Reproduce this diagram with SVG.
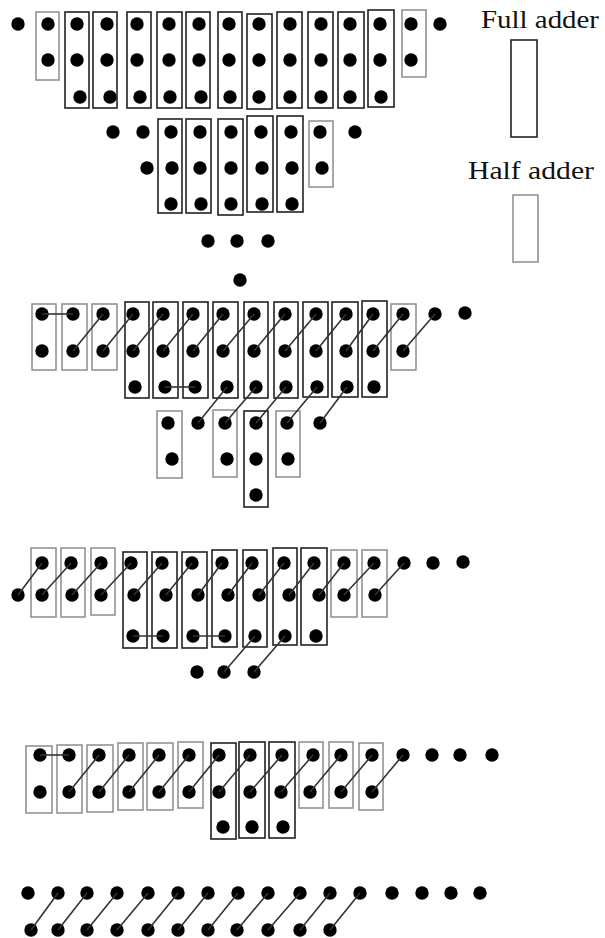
<svg xmlns="http://www.w3.org/2000/svg" width="605" height="938" viewBox="0 0 605 938">
<defs>
<style>
.fa{fill:none;stroke:#222;stroke-width:1.6}
.ha{fill:none;stroke:#8c8c8c;stroke-width:1.5}
.d{fill:#000}
.ln{stroke:#333;stroke-width:1.6;fill:none}
.lbl{font-family:"Liberation Serif","Times New Roman",serif;font-size:26px;fill:#111}
</style>
</defs>
<rect width="605" height="938" fill="#fff"/>

<g id="legend">
<text class="lbl" x="481" y="28" textLength="118" lengthAdjust="spacingAndGlyphs">Full adder</text>
<rect class="fa" x="511" y="40" width="26" height="97"/>
<text class="lbl" x="468" y="179" textLength="126" lengthAdjust="spacingAndGlyphs">Half adder</text>
<rect class="ha" x="513" y="195" width="25" height="67"/>
</g>

<g id="stage1-boxes">
<rect class="ha" x="36" y="12" width="23" height="68"/>
<rect class="fa" x="65" y="12" width="24" height="96"/>
<rect class="fa" x="93" y="12" width="24" height="96"/>
<rect class="fa" x="127" y="12" width="24" height="96"/>
<rect class="fa" x="157" y="12" width="25" height="96"/>
<rect class="fa" x="186" y="12" width="24" height="96"/>
<rect class="fa" x="218" y="12" width="24" height="96"/>
<rect class="fa" x="247" y="14" width="25" height="95"/>
<rect class="fa" x="277" y="12" width="25" height="96"/>
<rect class="fa" x="308" y="12" width="25" height="96"/>
<rect class="fa" x="338" y="12" width="26" height="96"/>
<rect class="fa" x="368" y="10" width="26" height="97"/>
<rect class="ha" x="402" y="10" width="24" height="67"/>
<rect class="fa" x="158" y="119" width="24" height="94"/>
<rect class="fa" x="186" y="119" width="25" height="94"/>
<rect class="fa" x="218" y="119" width="25" height="96"/>
<rect class="fa" x="247" y="116" width="26" height="96"/>
<rect class="fa" x="277" y="116" width="26" height="96"/>
<rect class="ha" x="309" y="121" width="24" height="66"/>
</g>
<g id="stage1-dots" class="d">
<circle cx="18" cy="24" r="6.7"/><circle cx="48" cy="24" r="6.7"/><circle cx="77" cy="24" r="6.7"/><circle cx="107" cy="24" r="6.7"/><circle cx="137" cy="24" r="6.7"/><circle cx="169" cy="24" r="6.7"/><circle cx="199" cy="24" r="6.7"/><circle cx="229" cy="24" r="6.7"/><circle cx="259" cy="24" r="6.7"/><circle cx="290" cy="24" r="6.7"/><circle cx="321" cy="24" r="6.7"/><circle cx="350" cy="24" r="6.7"/><circle cx="380" cy="24" r="6.7"/><circle cx="411" cy="24" r="6.7"/><circle cx="440" cy="24" r="6.7"/>
<circle cx="48" cy="60" r="6.7"/><circle cx="77" cy="60" r="6.7"/><circle cx="107" cy="60" r="6.7"/><circle cx="137" cy="60" r="6.7"/><circle cx="169" cy="60" r="6.7"/><circle cx="199" cy="60" r="6.7"/><circle cx="229" cy="60" r="6.7"/><circle cx="259" cy="60" r="6.7"/><circle cx="290" cy="60" r="6.7"/><circle cx="321" cy="60" r="6.7"/><circle cx="350" cy="60" r="6.7"/><circle cx="380" cy="60" r="6.7"/><circle cx="411" cy="60" r="6.7"/>
<circle cx="80" cy="97" r="6.7"/><circle cx="110" cy="97" r="6.7"/><circle cx="140" cy="97" r="6.7"/><circle cx="170" cy="97" r="6.7"/><circle cx="201" cy="97" r="6.7"/><circle cx="230" cy="97" r="6.7"/><circle cx="259" cy="97" r="6.7"/><circle cx="290" cy="97" r="6.7"/><circle cx="321" cy="97" r="6.7"/><circle cx="350" cy="97" r="6.7"/><circle cx="381" cy="97" r="6.7"/>
<circle cx="113" cy="132" r="6.7"/><circle cx="143" cy="132" r="6.7"/><circle cx="171" cy="132" r="6.7"/><circle cx="200" cy="132" r="6.7"/><circle cx="231" cy="132" r="6.7"/><circle cx="261" cy="132" r="6.7"/><circle cx="291" cy="132" r="6.7"/><circle cx="320" cy="132" r="6.7"/><circle cx="355" cy="132" r="6.7"/>
<circle cx="147" cy="168" r="6.7"/><circle cx="172" cy="168" r="6.7"/><circle cx="200" cy="168" r="6.7"/><circle cx="231" cy="168" r="6.7"/><circle cx="262" cy="168" r="6.7"/><circle cx="292" cy="168" r="6.7"/><circle cx="322" cy="168" r="6.7"/>
<circle cx="171" cy="204" r="6.7"/><circle cx="201" cy="204" r="6.7"/><circle cx="231" cy="204" r="6.7"/><circle cx="262" cy="204" r="6.7"/><circle cx="292" cy="204" r="6.7"/>
<circle cx="208" cy="241" r="6.7"/><circle cx="237" cy="241" r="6.7"/><circle cx="268" cy="241" r="6.7"/>
<circle cx="240" cy="280" r="6.7"/>
</g>

<g id="stage2-boxes">
<rect class="ha" x="32" y="304" width="24" height="66"/>
<rect class="ha" x="62" y="304" width="25" height="66"/>
<rect class="ha" x="92" y="304" width="25" height="66"/>
<rect class="fa" x="125" y="302" width="24" height="96"/>
<rect class="fa" x="153" y="302" width="25" height="96"/>
<rect class="fa" x="183" y="302" width="25" height="96"/>
<rect class="fa" x="213" y="302" width="25" height="96"/>
<rect class="fa" x="244" y="302" width="24" height="96"/>
<rect class="fa" x="274" y="302" width="24" height="96"/>
<rect class="fa" x="303" y="302" width="25" height="95"/>
<rect class="fa" x="332" y="302" width="26" height="95"/>
<rect class="fa" x="362" y="301" width="25" height="96"/>
<rect class="ha" x="391" y="304" width="25" height="66"/>
<rect class="ha" x="157" y="411" width="25" height="67"/>
<rect class="ha" x="213" y="410" width="24" height="67"/>
<rect class="fa" x="244" y="411" width="24" height="96"/>
<rect class="ha" x="276" y="411" width="24" height="66"/>
</g>
<g id="stage2-dots" class="d">
<circle cx="42" cy="314" r="6.7"/><circle cx="73" cy="314" r="6.7"/><circle cx="103" cy="314" r="6.7"/><circle cx="133" cy="314" r="6.7"/><circle cx="163" cy="314" r="6.7"/><circle cx="193" cy="314" r="6.7"/><circle cx="223" cy="314" r="6.7"/><circle cx="254" cy="314" r="6.7"/><circle cx="285" cy="314" r="6.7"/><circle cx="316" cy="314" r="6.7"/><circle cx="346" cy="314" r="6.7"/><circle cx="373" cy="314" r="6.7"/><circle cx="403" cy="314" r="6.7"/><circle cx="435" cy="314" r="6.7"/><circle cx="465" cy="313" r="6.7"/>
<circle cx="42" cy="351" r="6.7"/><circle cx="73" cy="351" r="6.7"/><circle cx="103" cy="351" r="6.7"/><circle cx="133" cy="351" r="6.7"/><circle cx="163" cy="351" r="6.7"/><circle cx="193" cy="351" r="6.7"/><circle cx="223" cy="351" r="6.7"/><circle cx="254" cy="351" r="6.7"/><circle cx="285" cy="351" r="6.7"/><circle cx="316" cy="351" r="6.7"/><circle cx="346" cy="351" r="6.7"/><circle cx="373" cy="351" r="6.7"/><circle cx="403" cy="351" r="6.7"/>
<circle cx="135" cy="387" r="6.7"/><circle cx="165" cy="387" r="6.7"/><circle cx="195" cy="387" r="6.7"/><circle cx="227" cy="387" r="6.7"/><circle cx="256" cy="387" r="6.7"/><circle cx="286" cy="387" r="6.7"/><circle cx="317" cy="387" r="6.7"/><circle cx="347" cy="387" r="6.7"/><circle cx="374" cy="387" r="6.7"/>
<circle cx="168" cy="423" r="6.7"/><circle cx="198" cy="423" r="6.7"/><circle cx="225" cy="423" r="6.7"/><circle cx="256" cy="423" r="6.7"/><circle cx="287" cy="423" r="6.7"/><circle cx="320" cy="423" r="6.7"/>
<circle cx="172" cy="459" r="6.7"/><circle cx="227" cy="459" r="6.7"/><circle cx="256" cy="459" r="6.7"/><circle cx="288" cy="459" r="6.7"/>
<circle cx="256" cy="495" r="6.7"/>
</g>

<g id="stage3-boxes">
<rect class="ha" x="31" y="548" width="25" height="69"/>
<rect class="ha" x="61" y="548" width="24" height="69"/>
<rect class="ha" x="91" y="548" width="24" height="67"/>
<rect class="fa" x="123" y="552" width="24" height="96"/>
<rect class="fa" x="152" y="552" width="25" height="96"/>
<rect class="fa" x="182" y="552" width="25" height="96"/>
<rect class="fa" x="212" y="550" width="25" height="97"/>
<rect class="fa" x="243" y="550" width="24" height="97"/>
<rect class="fa" x="273" y="548" width="24" height="97"/>
<rect class="fa" x="301" y="548" width="26" height="97"/>
<rect class="ha" x="331" y="550" width="26" height="67"/>
<rect class="ha" x="362" y="550" width="25" height="67"/>
</g>
<g id="stage3-dots" class="d">
<circle cx="42" cy="563" r="6.7"/><circle cx="71" cy="563" r="6.7"/><circle cx="101" cy="563" r="6.7"/><circle cx="131" cy="563" r="6.7"/><circle cx="162" cy="563" r="6.7"/><circle cx="192" cy="563" r="6.7"/><circle cx="222" cy="563" r="6.7"/><circle cx="252" cy="563" r="6.7"/><circle cx="284" cy="563" r="6.7"/><circle cx="314" cy="563" r="6.7"/><circle cx="344" cy="563" r="6.7"/><circle cx="374" cy="563" r="6.7"/><circle cx="404" cy="563" r="6.7"/><circle cx="433" cy="563" r="6.7"/><circle cx="463" cy="562" r="6.7"/>
<circle cx="18" cy="595" r="6.7"/><circle cx="42" cy="595" r="6.7"/><circle cx="72" cy="595" r="6.7"/><circle cx="101" cy="595" r="6.7"/><circle cx="134" cy="595" r="6.7"/><circle cx="166" cy="595" r="6.7"/><circle cx="198" cy="595" r="6.7"/><circle cx="228" cy="595" r="6.7"/><circle cx="259" cy="595" r="6.7"/><circle cx="289" cy="595" r="6.7"/><circle cx="319" cy="595" r="6.7"/><circle cx="344" cy="595" r="6.7"/><circle cx="375" cy="595" r="6.7"/>
<circle cx="133" cy="636" r="6.7"/><circle cx="163" cy="636" r="6.7"/><circle cx="193" cy="636" r="6.7"/><circle cx="225" cy="636" r="6.7"/><circle cx="255" cy="636" r="6.7"/><circle cx="285" cy="636" r="6.7"/><circle cx="316" cy="636" r="6.7"/>
<circle cx="197" cy="672" r="6.7"/><circle cx="224" cy="672" r="6.7"/><circle cx="254" cy="672" r="6.7"/>
</g>

<g id="stage4-boxes">
<rect class="ha" x="26" y="746" width="26" height="67"/>
<rect class="ha" x="57" y="745" width="25" height="68"/>
<rect class="ha" x="87" y="745" width="26" height="67"/>
<rect class="ha" x="118" y="743" width="25" height="67"/>
<rect class="ha" x="147" y="743" width="26" height="67"/>
<rect class="ha" x="178" y="742" width="25" height="66"/>
<rect class="fa" x="211" y="743" width="25" height="96"/>
<rect class="fa" x="239" y="742" width="26" height="96"/>
<rect class="fa" x="269" y="742" width="26" height="96"/>
<rect class="ha" x="299" y="742" width="24" height="66"/>
<rect class="ha" x="329" y="742" width="24" height="66"/>
<rect class="ha" x="359" y="743" width="24" height="67"/>
</g>
<g id="stage4-dots" class="d">
<circle cx="40" cy="755" r="6.7"/><circle cx="69" cy="755" r="6.7"/><circle cx="99" cy="755" r="6.7"/><circle cx="129" cy="755" r="6.7"/><circle cx="159" cy="755" r="6.7"/><circle cx="189" cy="755" r="6.7"/><circle cx="219" cy="755" r="6.7"/><circle cx="250" cy="755" r="6.7"/><circle cx="282" cy="755" r="6.7"/><circle cx="313" cy="755" r="6.7"/><circle cx="341" cy="755" r="6.7"/><circle cx="372" cy="755" r="6.7"/><circle cx="403" cy="755" r="6.7"/><circle cx="432" cy="755" r="6.7"/><circle cx="460" cy="755" r="6.7"/><circle cx="492" cy="755" r="6.7"/>
<circle cx="40" cy="792" r="6.7"/><circle cx="69" cy="792" r="6.7"/><circle cx="99" cy="792" r="6.7"/><circle cx="129" cy="792" r="6.7"/><circle cx="159" cy="792" r="6.7"/><circle cx="189" cy="792" r="6.7"/><circle cx="219" cy="792" r="6.7"/><circle cx="250" cy="792" r="6.7"/><circle cx="281" cy="792" r="6.7"/><circle cx="310" cy="792" r="6.7"/><circle cx="341" cy="792" r="6.7"/><circle cx="372" cy="792" r="6.7"/>
<circle cx="223" cy="827" r="6.7"/><circle cx="252" cy="827" r="6.7"/><circle cx="283" cy="827" r="6.7"/>
</g>

<g id="stage5-dots" class="d">
<circle cx="28" cy="893" r="6.7"/><circle cx="58" cy="893" r="6.7"/><circle cx="87" cy="893" r="6.7"/><circle cx="117" cy="893" r="6.7"/><circle cx="148" cy="893" r="6.7"/><circle cx="178" cy="893" r="6.7"/><circle cx="208" cy="893" r="6.7"/><circle cx="238" cy="893" r="6.7"/><circle cx="268" cy="893" r="6.7"/><circle cx="300" cy="893" r="6.7"/><circle cx="330" cy="893" r="6.7"/><circle cx="360" cy="893" r="6.7"/><circle cx="392" cy="893" r="6.7"/><circle cx="422" cy="893" r="6.7"/><circle cx="451" cy="893" r="6.7"/><circle cx="480" cy="893" r="6.7"/>
<circle cx="31" cy="930" r="6.7"/><circle cx="58" cy="930" r="6.7"/><circle cx="87" cy="930" r="6.7"/><circle cx="117" cy="930" r="6.7"/><circle cx="148" cy="930" r="6.7"/><circle cx="178" cy="930" r="6.7"/><circle cx="208" cy="930" r="6.7"/><circle cx="237" cy="930" r="6.7"/><circle cx="268" cy="930" r="6.7"/><circle cx="300" cy="930" r="6.7"/><circle cx="330" cy="930" r="6.7"/>
</g>

<g id="connectors" class="ln">
<path d="M42 314H73"/>
<path d="M73 351L103 314M103 351L133 314M133 351L163 314M163 351L193 314M193 351L223 314M223 351L254 314M254 351L285 314M285 351L316 314M316 351L346 314M346 351L373 314M373 351L403 314M403 351L435 314"/>
<path d="M165 387H195"/>
<path d="M198 423L227 387M225 423L256 387M256 423L286 387M287 423L317 387M320 423L347 387"/>
<path d="M18 595L42 563M42 595L71 563M72 595L101 563M101 595L131 563M134 595L162 563M166 595L192 563M198 595L222 563M228 595L252 563M259 595L284 563M289 595L314 563M319 595L344 563M344 595L374 563M375 595L404 563"/>
<path d="M133 636H163M193 636H225"/>
<path d="M224 672L255 636M254 672L285 636"/>
<path d="M40 755H69"/>
<path d="M69 792L99 755M99 792L129 755M129 792L159 755M159 792L189 755M189 792L219 755M219 792L250 755M250 792L282 755M281 792L313 755M310 792L341 755M341 792L372 755M372 792L403 755"/>
<path d="M31 930L58 893M58 930L87 893M87 930L117 893M117 930L148 893M148 930L178 893M178 930L208 893M208 930L238 893M237 930L268 893M268 930L300 893M300 930L330 893M330 930L360 893"/>
</g>
</svg>
